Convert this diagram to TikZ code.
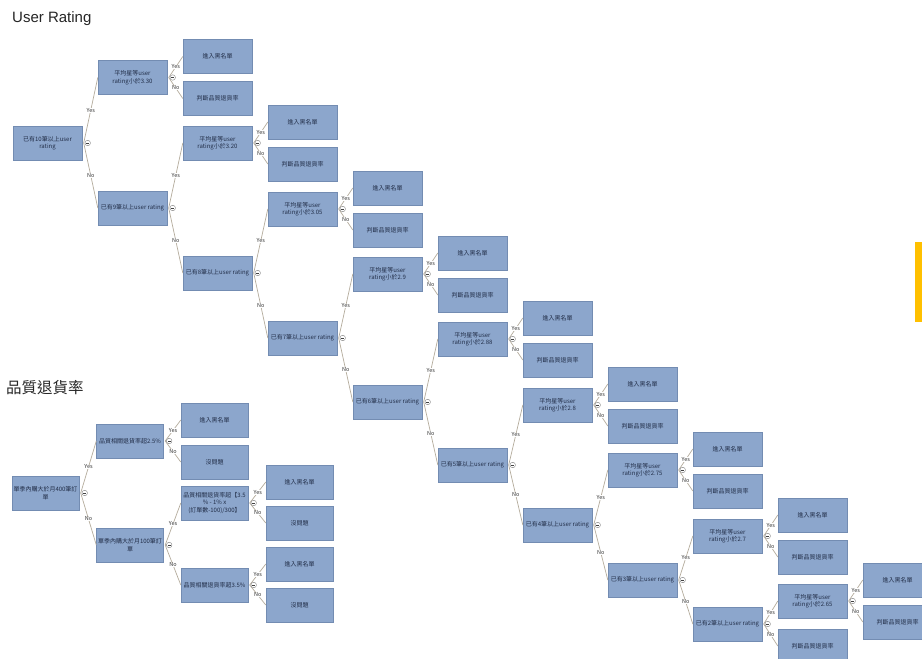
\documentclass[tikz,border=0pt]{standalone}
\usepackage{fontspec}
\setmainfont{Noto Sans CJK TC}
\newfontfamily\titlefont{Liberation Sans}
\usetikzlibrary{shadows}
\definecolor{boxfill}{RGB}{140,166,204}
\definecolor{boxline}{RGB}{115,140,178}
\definecolor{boxtext}{RGB}{34,46,72}
\definecolor{conn}{RGB}{180,172,156}
\definecolor{orangebar}{RGB}{255,192,0}
\tikzset{
  box/.style={draw=boxline, line width=0.4pt, fill=boxfill, minimum width=69pt,
    minimum height=34pt, inner sep=1pt, align=center,
    font=\fontsize{6}{7.5}\selectfont, text=boxtext,
    drop shadow={shadow xshift=0.8pt, shadow yshift=-0.8pt, opacity=0.35, fill=gray}},
  box2/.style={box, minimum width=67pt},
  link/.style={draw=conn, line width=0.7pt},
  yn/.style={font=\fontsize{5.5}{6}\selectfont, fill=white, inner sep=0.4pt, text=black!80},
  tog/.style={circle, draw=gray, fill=white, minimum size=5.5pt, inner sep=0pt, line width=0.4pt},
}
\newcommand\qleaves[4]{%
  \node[box] (#1) at (#2,#3) {平均星等user\\rating小於#4};
  \node[box] (#1y) at (#2+85,#3-21) {進入黑名單};
  \node[box] (#1n) at (#2+85,#3+21) {判斷品質退貨率};
}
\newcommand\yesno[3]{%
  \draw[link] ([xshift=1.5pt]#1.east) -- node[yn]{Yes} (#2.west);
  \draw[link] ([xshift=1.5pt]#1.east) -- node[yn]{No} (#3.west);
  \node[tog] (#1tg) at ([xshift=5.5pt]#1.east) {};
  \draw[line width=0.5pt, black!75] ([xshift=-1.4pt]#1tg.center) -- ([xshift=1.4pt]#1tg.center);
}
\begin{document}
\begin{tikzpicture}[x=1pt,y=-1pt]
\useasboundingbox[fill=white] (0,0) rectangle (922,659);
% titles
\node[anchor=base west, inner sep=0pt, font=\titlefont\fontsize{15}{18}\selectfont, text=black!85] (t1) at (12,22) {User Rating};
\node[anchor=base west, inner sep=0pt, font=\fontsize{15.5}{18}\selectfont, text=black!85] (t2) at (6,393) {品質退貨率};
\fill[orangebar] (915,242) rectangle (922,322);
% ---- tree 1 ----
\node[box] (c0) at (47.5,143) {已有10筆以上user\\rating};
\node[box] (c1) at (132.5,208) {已有9筆以上user rating};
\node[box] (c2) at (217.5,273) {已有8筆以上user rating};
\node[box] (c3) at (302.5,338) {已有7筆以上user rating};
\node[box] (c4) at (387.5,402) {已有6筆以上user rating};
\node[box] (c5) at (472.5,465) {已有5筆以上user rating};
\node[box] (c6) at (557.5,525) {已有4筆以上user rating};
\node[box] (c7) at (642.5,580) {已有3筆以上user rating};
\node[box] (c8) at (727.5,624) {已有2筆以上user rating};
\qleaves{q1}{132.5}{77.5}{3.30}
\qleaves{q2}{217.5}{143}{3.20}
\qleaves{q3}{302.5}{209}{3.05}
\qleaves{q4}{387.5}{274}{2.9}
\qleaves{q5}{472.5}{339}{2.88}
\qleaves{q6}{557.5}{405}{2.8}
\qleaves{q7}{642.5}{470}{2.75}
\qleaves{q8}{727.5}{536}{2.7}
\qleaves{q9}{812.5}{601}{2.65}
\node[box] (d8) at (812.5,646) {判斷品質退貨率};
\yesno{c0}{q1}{c1}
\yesno{c1}{q2}{c2}
\yesno{c2}{q3}{c3}
\yesno{c3}{q4}{c4}
\yesno{c4}{q5}{c5}
\yesno{c5}{q6}{c6}
\yesno{c6}{q7}{c7}
\yesno{c7}{q8}{c8}
\yesno{c8}{q9}{d8}
\yesno{q1}{q1y}{q1n}
\yesno{q2}{q2y}{q2n}
\yesno{q3}{q3y}{q3n}
\yesno{q4}{q4y}{q4n}
\yesno{q5}{q5y}{q5n}
\yesno{q6}{q6y}{q6n}
\yesno{q7}{q7y}{q7n}
\yesno{q8}{q8y}{q8n}
\yesno{q9}{q9y}{q9n}
% ---- tree 2 ----
\node[box2] (s0) at (45.5,493) {單季內購大於月400筆訂\\單};
\node[box2] (s1) at (130,441) {品質相關退貨率超2.5\%};
\node[box2] (s1y) at (214.5,420) {進入黑名單};
\node[box2] (s1n) at (214.5,462) {沒問題};
\node[box2] (s2) at (130,545) {單季內購大於月100筆訂\\單};
\node[box2] (s3) at (214.5,503) {品質相關退貨率超【3.5\\\% - 1\% x\\(訂單數-100)/300】};
\node[box2] (s3y) at (299.5,482) {進入黑名單};
\node[box2] (s3n) at (299.5,523) {沒問題};
\node[box2] (s4) at (214.5,585) {品質相關退貨率超3.5\%};
\node[box2] (s4y) at (299.5,564) {進入黑名單};
\node[box2] (s4n) at (299.5,605) {沒問題};
\yesno{s0}{s1}{s2}
\yesno{s1}{s1y}{s1n}
\yesno{s2}{s3}{s4}
\yesno{s3}{s3y}{s3n}
\yesno{s4}{s4y}{s4n}
\end{tikzpicture}
\end{document}
